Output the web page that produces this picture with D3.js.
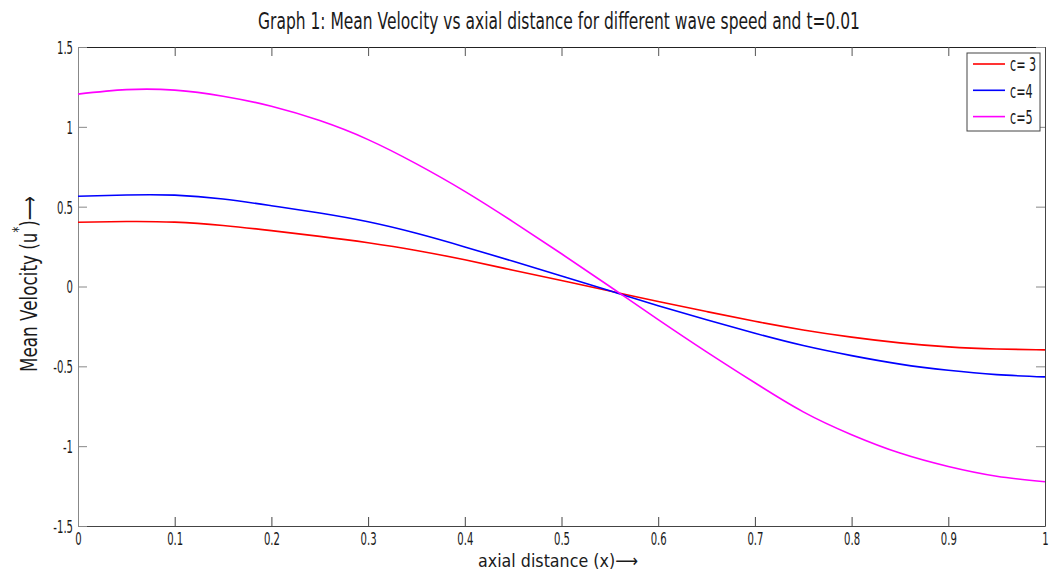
<!DOCTYPE html>
<html>
<head>
<meta charset="utf-8">
<script src="https://cdn.jsdelivr.net/npm/d3@7"></script>
<style>
  body { margin: 0; background: #fff; }
  text { font-family: "DejaVu Sans", "Liberation Sans", sans-serif; fill: #1a1a1a; }
</style>
</head>
<body>
<svg id="chart" width="1050" height="572"></svg>
<script>
// Axial positions and mean velocity u* for each wave speed c
const xValues = [0, 0.05, 0.1, 0.15, 0.2, 0.25, 0.3, 0.35, 0.4, 0.45, 0.5,
                 0.55, 0.6, 0.65, 0.7, 0.75, 0.8, 0.85, 0.9, 0.95, 1];
const uC3 = [0.402, 0.407, 0.403, 0.382, 0.350, 0.314, 0.274, 0.226, 0.167, 0.102, 0.037,
             -0.028, -0.094, -0.157, -0.218, -0.272, -0.317, -0.353, -0.378, -0.391, -0.397];
const uC4 = [0.565, 0.573, 0.572, 0.548, 0.506, 0.460, 0.405, 0.333, 0.248, 0.158, 0.066,
             -0.027, -0.120, -0.208, -0.293, -0.370, -0.433, -0.486, -0.525, -0.552, -0.566];
const uC5 = [1.205, 1.233, 1.230, 1.192, 1.129, 1.039, 0.920, 0.768, 0.596, 0.405, 0.205,
             0.000, -0.207, -0.409, -0.603, -0.785, -0.928, -1.043, -1.127, -1.188, -1.223];

const seriesNames = ["c= 3", "c=4", "c=5"];
const seriesColors = ["#ff0000", "#0000ff", "#ff00ff"];

const xTicks = [0, 0.1, 0.2, 0.3, 0.4, 0.5, 0.6, 0.7, 0.8, 0.9, 1];
const xTickLabels = ["0", "0.1", "0.2", "0.3", "0.4", "0.5", "0.6", "0.7", "0.8", "0.9", "1"];
const yTicks = [-1.5, -1, -0.5, 0, 0.5, 1, 1.5];
const yTickLabels = ["-1.5", "-1", "-0.5", "0", "0.5", "1", "1.5"];

const titleText = "Graph 1: Mean Velocity vs axial distance for different wave speed and t=0.01";

const svg = d3.select("#chart");
const plotLeft = 78, plotRight = 1045, plotTop = 47, plotBottom = 526;
const narrow = 0.56; // horizontal squeeze for the condensed lettering

const x = d3.scaleLinear().domain([0, 1]).range([plotLeft, plotRight]);
const y = d3.scaleLinear().domain([-1.5, 1.5]).range([plotBottom, plotTop]);

svg.append("rect").attr("x", 0).attr("y", 0).attr("width", 1050).attr("height", 572).attr("fill", "#fff");

// squeeze a text horizontally so that it spans the given width
function fitText(sel, width, px, py, angle) {
  const natural = sel.node().getComputedTextLength();
  const k = width / natural;
  sel.attr("transform", `translate(${px},${py}) rotate(${angle}) scale(${k},1)`);
}

// top and right frame with inward ticks
const gTop = svg.append("g").attr("transform", `translate(0,${plotTop})`)
  .call(d3.axisTop(x).tickValues(xTicks).tickSizeInner(-9).tickSizeOuter(0).tickFormat(""));
gTop.select(".domain").attr("stroke", "#222");
gTop.selectAll(".tick line").attr("stroke", "#555");

const gRight = svg.append("g").attr("transform", `translate(${plotRight},0)`)
  .call(d3.axisRight(y).tickValues(yTicks).tickSizeInner(-9).tickSizeOuter(0).tickFormat(""));
gRight.select(".domain").attr("stroke", "#444");
gRight.selectAll(".tick line").attr("stroke", "#888");

// bottom axis
const gBottom = svg.append("g").attr("transform", `translate(0,${plotBottom})`)
  .call(d3.axisBottom(x).tickValues(xTicks).tickSizeInner(-9).tickSizeOuter(0).tickPadding(4)
    .tickFormat((d, i) => xTickLabels[i]));
gBottom.select(".domain").attr("stroke", "#444");
gBottom.selectAll(".tick line").attr("stroke", "#444");
gBottom.selectAll(".tick text")
  .attr("font-size", 18).attr("fill", "#1a1a1a")
  .attr("y", 6).attr("dy", "0.71em")
  .attr("transform", `scale(${narrow},1)`);

// left axis
const gLeft = svg.append("g").attr("transform", `translate(${plotLeft},0)`)
  .call(d3.axisLeft(y).tickValues(yTicks).tickSizeInner(-9).tickSizeOuter(0)
    .tickFormat((d, i) => yTickLabels[i]));
gLeft.select(".domain").attr("stroke", "#888");
gLeft.selectAll(".tick line").attr("stroke", "#888");
gLeft.selectAll(".tick text")
  .attr("font-size", 18).attr("fill", "#1a1a1a")
  .attr("x", -5 / narrow).attr("dy", "0.36em")
  .attr("transform", `scale(${narrow},1)`);

// curves
const line = d3.line().x(d => x(d[0])).y(d => y(d[1])).curve(d3.curveNatural);
[uC3, uC4, uC5].forEach((vals, i) => {
  svg.append("path")
    .datum(xValues.map((xv, j) => [xv, vals[j]]))
    .attr("fill", "none")
    .attr("stroke", seriesColors[i])
    .attr("stroke-width", 1.6)
    .attr("d", line);
});

// title
const title = svg.append("text").attr("font-size", 23).text(titleText);
fitText(title, 602, 258, 29, 0);

// x label
const xl = svg.append("text").attr("font-size", 18).text("axial distance (x)\u27F6");
fitText(xl, 160, 478, 567, 0);

// y label
const yl = svg.append("text").attr("font-size", 23);
yl.append("tspan").text("Mean Velocity (u");
yl.append("tspan").attr("dy", -13).attr("font-size", 16).text("*");
yl.append("tspan").attr("dy", 13).text(")\u27F6");
fitText(yl, 176, 37, 372, -90);

// legend
const legend = svg.append("g");
legend.append("rect")
  .attr("x", 967).attr("y", 53).attr("width", 73).attr("height", 78)
  .attr("fill", "#fff").attr("stroke", "#444").attr("stroke-width", 1);
seriesNames.forEach((name, i) => {
  const ly = 64 + i * 26.3;
  legend.append("line")
    .attr("x1", 973).attr("x2", 1005).attr("y1", ly).attr("y2", ly)
    .attr("stroke", seriesColors[i]).attr("stroke-width", 1.6);
  legend.append("text")
    .attr("transform", `translate(1010,${ly}) scale(${narrow},1)`)
    .attr("dy", "0.36em")
    .attr("font-size", 20)
    .text(name);
});
</script>
</body>
</html>
